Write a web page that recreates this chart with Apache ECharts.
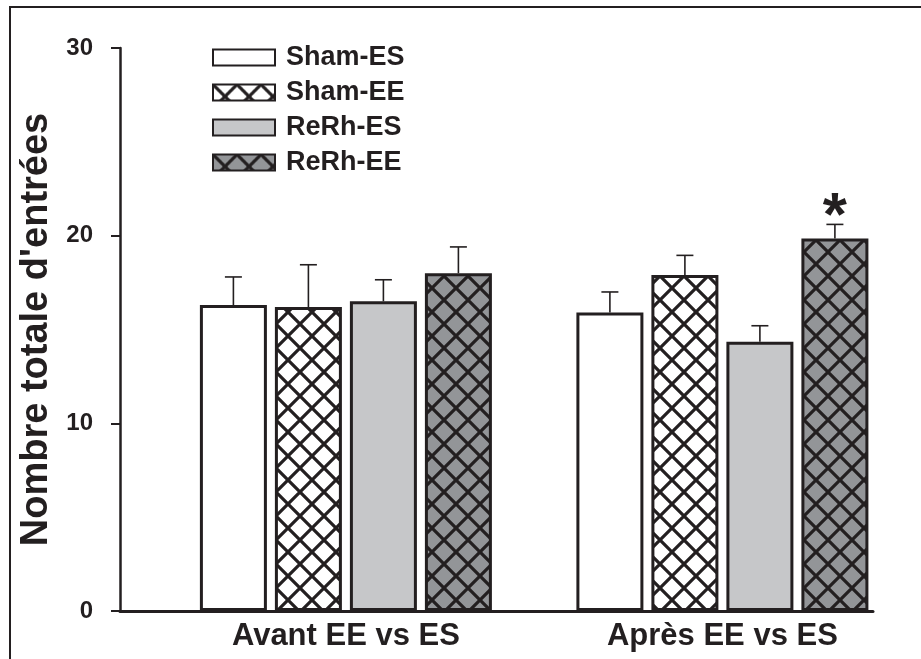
<!DOCTYPE html>
<html><head><meta charset="utf-8">
<script src="https://cdn.jsdelivr.net/npm/echarts@6/dist/echarts.min.js"></script>
<style>html,body{margin:0;padding:0;background:#fff}#c{width:921px;height:659px}</style>
</head><body><div id="c"></div>
<script>
// ---- data ----
const categories = ['Avant EE vs ES', 'Après EE vs ES'];
const seriesNames = ['Sham-ES', 'Sham-EE', 'ReRh-ES', 'ReRh-EE'];
const shamES = [16.3, 15.9];
const shamEE = [16.2, 17.9];
const rerhES = [16.5, 14.35];
const rerhEE = [18.0, 19.85];
const shamES_err = [1.5, 1.1];
const shamEE_err = [2.25, 1.05];
const rerhES_err = [1.15, 0.85];
const rerhEE_err = [1.4, 0.75];
const rerhEE_sig = ['', '*'];
const yTicks = [0, 10, 20, 30];
const yTitle = "Nombre totale d'entrées";

// ---- style ----
const INK = '#231f20';
const FONT = '"Liberation Sans", Arial, sans-serif';
const BAR_W = 67, GAP_PX = 8;
function hatch(bg) {
  const s = 24, c = document.createElement('canvas');
  c.width = s; c.height = s;
  const g = c.getContext('2d');
  g.fillStyle = bg; g.fillRect(0, 0, s, s);
  g.strokeStyle = INK; g.lineWidth = 3.2;
  g.beginPath();
  for (let k = -1; k <= 1; k++) {
    g.moveTo(k * s, 0); g.lineTo(k * s + s, s);
    g.moveTo(k * s, s); g.lineTo(k * s + s, 0);
  }
  g.stroke();
  return { image: c, repeat: 'repeat' };
}
const fills = ['#ffffff', hatch('#ffffff'), '#c6c7c9', hatch('#939598')];
const values = [shamES, shamEE, rerhES, rerhEE];
const errs = [shamES_err, shamEE_err, rerhES_err, rerhEE_err];
const sigs = [null, null, null, rerhEE_sig];
const xPos = categories.map((_, i) => i + 1);

const series = [];
values.forEach((vals, s) => {
  series.push({
    name: seriesNames[s], type: 'bar', barWidth: BAR_W, barGap: (GAP_PX / BAR_W * 100) + '%',
    itemStyle: { color: fills[s], borderColor: INK, borderWidth: 3 },
    emphasis: { disabled: true },
    data: vals.map((v, i) => [xPos[i], v])
  });
});
values.forEach((vals, s) => {
  series.push({
    type: 'custom', z: 5, silent: true,
    data: vals.map((v, i) => [xPos[i], v, errs[s][i], i]),
    renderItem: function (params, api) {
      const x = api.value(0), m = api.value(1), e = api.value(2), idx = api.value(3);
      const off = (s - 1.5) * (BAR_W + GAP_PX);
      const p0 = api.coord([x, m]), p1 = api.coord([x, m + e]);
      const cx = p0[0] + off;
      const ch = [
        { type: 'line', shape: { x1: cx, y1: p0[1], x2: cx, y2: p1[1] }, style: { stroke: INK, lineWidth: 1.6 } },
        { type: 'line', shape: { x1: cx - 8.5, y1: p1[1], x2: cx + 8.5, y2: p1[1] }, style: { stroke: INK, lineWidth: 1.6 } }
      ];
      const sg = sigs[s] ? sigs[s][idx] : '';
      if (sg) {
        ch.push({ type: 'text', style: { text: sg, x: cx, y: p1[1] + 24, align: 'center', verticalAlign: 'bottom', font: 'bold 62px ' + FONT, fill: INK } });
      }
      return { type: 'group', children: ch };
    }
  });
});

const chart = echarts.init(document.getElementById('c'), null, { renderer: 'canvas' });
chart.setOption({
  animation: false,
  backgroundColor: '#fff',
  graphic: [{ type: 'rect', shape: { x: 10, y: 7, width: 1000, height: 1000 }, style: { fill: 'none', stroke: INK, lineWidth: 2 } }],
  grid: { left: 120, right: 48, top: 48, bottom: 48 },
  legend: {
    data: seriesNames, orient: 'vertical', left: 207, top: 39,
    icon: 'rect', itemWidth: 62, itemHeight: 16, itemGap: 8,
    textStyle: { fontFamily: FONT, fontWeight: 'bold', fontSize: 27, color: INK, padding: [0, 0, 0, 6] },
    selectedMode: false
  },
  xAxis: {
    type: 'value', min: 0.4, max: 2.4,
    splitLine: { show: false }, axisTick: { show: false },
    axisLine: { show: true, onZero: false, lineStyle: { color: INK, width: 3 } },
    axisLabel: {
      customValues: xPos, margin: 10,
      formatter: v => categories[Math.round(v) - 1] || '',
      fontFamily: FONT, fontWeight: 'bold', fontSize: 31, color: INK
    }
  },
  yAxis: {
    type: 'value', min: 0, max: 30, interval: 10,
    splitLine: { show: false },
    axisLine: { show: true, lineStyle: { color: INK, width: 2.5 } },
    axisTick: { show: true, inside: false, length: 9, lineStyle: { color: INK, width: 2 } },
    axisLabel: {
      customValues: yTicks, margin: 27,
      fontFamily: FONT, fontWeight: 'bold', fontSize: 24, color: INK
    },
    name: yTitle, nameLocation: 'middle', nameGap: 55, nameRotate: 90,
    nameTextStyle: { fontFamily: FONT, fontWeight: 'bold', fontSize: 38, color: INK }
  },
  series: series
});
</script></body></html>
